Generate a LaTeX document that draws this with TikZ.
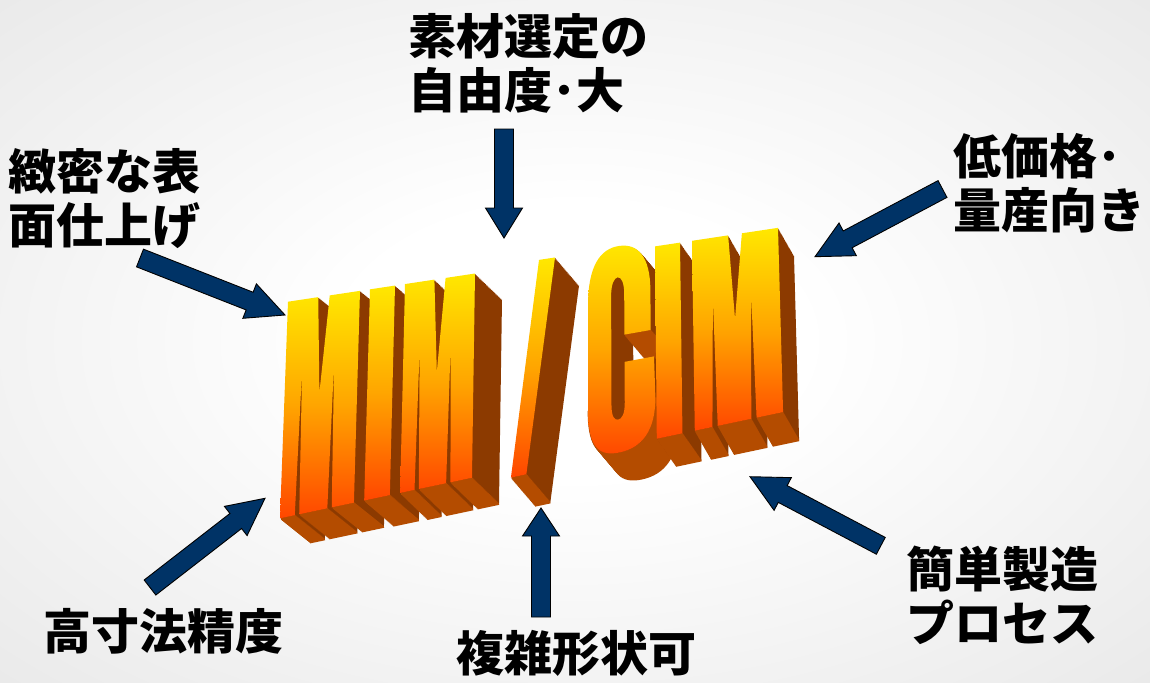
\documentclass[tikz,border=0pt]{standalone}
\usepackage{fontspec}
\newfontfamily\jp{Noto Sans CJK JP}
\usetikzlibrary{calc}
\definecolor{navy}{RGB}{0,51,102}
\definecolor{exdark}{RGB}{140,58,0}
\definecolor{exlight}{RGB}{180,76,0}
\definecolor{fyel}{RGB}{255,232,0}
\definecolor{fmid}{RGB}{255,165,0}
\definecolor{fbot}{RGB}{255,70,0}
\pgfdeclareradialshading{bgshade}{\pgfpointorigin}{color(0bp)=(white); color(10bp)=(white); color(50bp)=(black!13); color(72bp)=(black!19)}
\makeatletter
\pgfkeys{/wcs/.cd, f/.store in=\wF, v/.store in=\wV, f=0, v=0}
\def\Ls{0}\def\Le{1}
\tikzdeclarecoordinatesystem{w}{%
  \pgfkeys{/wcs/.cd,#1}%
  \pgfmathsetmacro\wP{\Ls+(\wF)*(\Le-\Ls)}%
  \pgfmathsetmacro\wU{(\wP-288)/487}%
  \pgfmathsetmacro\wX{(1-\wV)*(288+487*\wU)+\wV*(280+500*\wU)}%
  \pgfmathsetmacro\wY{(1-\wV)*(301.7-73.4*\wU)+\wV*(518.3-105.6*\wU)}%
  \pgfpoint{\wX pt}{-\wY pt}%
}
\newcommand\blockarrow[3]{%
  \pgfmathanglebetweenpoints{\pgfpointanchor{#1}{center}}{\pgfpointanchor{#2}{center}}%
  \let\baAng\pgfmathresult
  \pgfpointdiff{\pgfpointanchor{#1}{center}}{\pgfpointanchor{#2}{center}}%
  \edef\baDx{\the\pgf@x}\edef\baDy{\the\pgf@y}%
  \pgfmathsetmacro\baLen{veclen(\baDx,\baDy)}%
  \begin{scope}[shift={(#1)}, rotate=\baAng]
    \draw[barrow] (0,-9.5) -- ({\baLen-#3},-9.5) -- ({\baLen-#3},-18.5) -- (\baLen,0)
      -- ({\baLen-#3},18.5) -- ({\baLen-#3},9.5) -- (0,9.5) -- cycle;
  \end{scope}}
\makeatother
% letter outlines (f = fraction of letter width, v = 0 top .. 1 bottom)
\def\Mpath{(w cs:f=0,v=0) -- (w cs:f=0.42,v=0) -- (w cs:f=0.48,v=0.45) -- (w cs:f=0.58,v=0)
  -- (w cs:f=1,v=0) -- (w cs:f=1,v=1) -- (w cs:f=0.70,v=1) -- (w cs:f=0.67,v=0.32)
  -- (w cs:f=0.64,v=1) -- (w cs:f=0.26,v=1) -- (w cs:f=0.23,v=0.32) -- (w cs:f=0.20,v=1)
  -- (w cs:f=0,v=1) -- cycle}
\def\Mbot{(w cs:f=0,v=1) -- (w cs:f=0.20,v=1) (w cs:f=0.26,v=1) -- (w cs:f=0.64,v=1)
  (w cs:f=0.70,v=1) -- (w cs:f=1,v=1)}
\def\Ipath{(w cs:f=0,v=0) -- (w cs:f=1,v=0) -- (w cs:f=1,v=1) -- (w cs:f=0,v=1) -- cycle}
\def\Ibot{(w cs:f=0,v=1) -- (w cs:f=1,v=1)}
\def\Spath{(w cs:f=539,v=-0.02) -- (w cs:f=555,v=-0.02) -- (w cs:f=528,v=1.04) -- (w cs:f=513,v=1.04) -- cycle}
\def\Sbot{(w cs:f=513,v=1.04) -- (w cs:f=528,v=1.04)}
\def\Cpath{(w cs:f=588,v=0.25) -- (w cs:f=588,v=0.78)
  .. controls (w cs:f=588,v=0.98) and (w cs:f=600,v=1.03) .. (w cs:f=619,v=1.03)
  .. controls (w cs:f=640,v=1.03) and (w cs:f=654,v=0.96) .. (w cs:f=654,v=0.78)
  -- (w cs:f=653,v=0.57) -- (w cs:f=624,v=0.57) -- (w cs:f=624,v=0.78)
  .. controls (w cs:f=624,v=0.84) and (w cs:f=621,v=0.86) .. (w cs:f=617.5,v=0.86)
  .. controls (w cs:f=614,v=0.86) and (w cs:f=611,v=0.84) .. (w cs:f=611,v=0.78)
  -- (w cs:f=611,v=0.22)
  .. controls (w cs:f=611,v=0.16) and (w cs:f=614,v=0.13) .. (w cs:f=617.5,v=0.13)
  .. controls (w cs:f=621,v=0.13) and (w cs:f=624,v=0.16) .. (w cs:f=624,v=0.22)
  -- (w cs:f=624,v=0.43) -- (w cs:f=650,v=0.43) -- (w cs:f=650,v=0.22)
  .. controls (w cs:f=650,v=0.05) and (w cs:f=638,v=-0.03) .. (w cs:f=619,v=-0.03)
  .. controls (w cs:f=600,v=-0.03) and (w cs:f=588,v=0.05) .. (w cs:f=588,v=0.25) -- cycle}
\def\Cbot{(w cs:f=588,v=0.78)
  .. controls (w cs:f=588,v=0.98) and (w cs:f=600,v=1.03) .. (w cs:f=619,v=1.03)
  .. controls (w cs:f=640,v=1.03) and (w cs:f=654,v=0.96) .. (w cs:f=654,v=0.78)
  (w cs:f=624,v=0.43) -- (w cs:f=650,v=0.43)}
\newcommand\extrude[6]{%
  \def\Ls{#1}\def\Le{#2}%
  \foreach \k in {30,29,...,1}{%
    \begin{scope}[shift={({#5*\k/30},{#6*\k/30})}]
      \fill[exdark] #3;
      \draw[exlight, line width=2.2pt] #4;
    \end{scope}}%
}
\newcommand\frontface[3]{\def\Ls{#1}\def\Le{#2}\shade[front] #3;}
\begin{document}
\begin{tikzpicture}[x=1pt,y=-1pt,
  front/.style={top color=fyel, bottom color=fbot, middle color=fmid},
  barrow/.style={fill=navy, draw=black, line width=0.9pt, line join=miter},
  lab/.style={font=\jp\bfseries\fontsize{48}{54}\selectfont, inner sep=0pt, align=left, anchor=north west, text=black}]
\useasboundingbox (0,0) rectangle (1150,682);
\shade[shading=bgshade] (0,0) rectangle (1150,682);

% 3D word "MIM / CIM": extrusions
\extrude{288}{360}{\Mpath}{\Mbot}{30}{24}
\extrude{370}{395}{\Ipath}{\Ibot}{29}{25}
\extrude{405}{475}{\Mpath}{\Mbot}{27}{26}
\extrude{0}{1}{\Spath}{\Sbot}{24}{28}
\extrude{0}{1}{\Cpath}{\Cbot}{22}{26}
\extrude{655}{680}{\Ipath}{\Ibot}{19}{27}
\extrude{692}{778}{\Mpath}{\Mbot}{16}{28}
% front faces
\frontface{288}{360}{\Mpath}
\frontface{370}{395}{\Ipath}
\frontface{405}{475}{\Mpath}
\frontface{0}{1}{\Spath}
\frontface{0}{1}{\Cpath}
\frontface{655}{680}{\Ipath}
\frontface{692}{778}{\Mpath}

% labels
\node[lab] (t1) at (408,13) {素材選定の\\自由度･大};
\node[lab] (t2) at (8,148) {緻密な表\\面仕上げ};
\node[lab] (t3) at (953,133) {低価格･\\量産向き};
\node[lab] (t4) at (43,608) {高寸法精度};
\node[lab] (t5) at (456,630) {複雑形状可};
\node[lab] (t6) at (906,546) {簡単製造\\プロセス};

% arrows
\coordinate (a1s) at (504,129);   \coordinate (a1e) at (504,238);
\coordinate (a2s) at (140,258);   \coordinate (a2e) at (285,315);
\coordinate (a3s) at (942.5,189); \coordinate (a3e) at (815,256.7);
\coordinate (a4s) at (150,587.5); \coordinate (a4e) at (265,498.3);
\coordinate (a5s) at (541,617);   \coordinate (a5e) at (541,508);
\coordinate (a6s) at (880.8,545.8); \coordinate (a6e) at (750,476.7);
\blockarrow{a1s}{a1e}{30}
\blockarrow{a2s}{a2e}{38}
\blockarrow{a3s}{a3e}{37}
\blockarrow{a4s}{a4e}{37}
\blockarrow{a5s}{a5e}{28}
\blockarrow{a6s}{a6e}{37}
\end{tikzpicture}
\end{document}
